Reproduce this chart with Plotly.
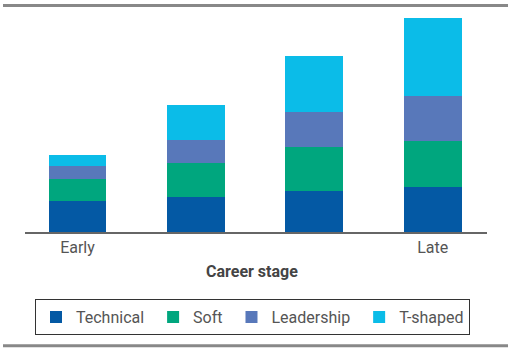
import plotly.graph_objects as go

categories = ["Early", "Stage 2", "Stage 3", "Late"]
tick_labels = ["Early", "", "", "Late"]
technical = [31, 35, 41.3, 45.3]
soft = [22, 34.3, 43.4, 45.4]
leadership = [13, 23, 35.6, 45.3]
t_shaped = [11, 34.7, 55.4, 78.3]

series = [
    ("Technical", technical, "#0459A4"),
    ("Soft", soft, "#00A67E"),
    ("Leadership", leadership, "#5878BA"),
    ("T-shaped", t_shaped, "#0BBCE8"),
]

fig = go.Figure()
for i, (name, vals, col) in enumerate(series):
    label = name + ("\u00a0" if i < len(series) - 1 else "")
    fig.add_trace(go.Bar(x=categories, y=vals, name=label,
                         marker=dict(color=col, line=dict(width=0))))

fig.update_layout(
    width=512, height=353,
    margin=dict(l=25, r=25, t=12, b=121),
    barmode="stack", bargap=0.513,
    paper_bgcolor="white", plot_bgcolor="white",
    font=dict(family="Roboto", color="#555555"),
    showlegend=True,
    legend=dict(orientation="h", x=0.4924, xanchor="center", y=-0.305, yanchor="top",
                bordercolor="#333333", borderwidth=1, traceorder="normal",
                font=dict(size=16, color="#555555")),
    xaxis=dict(range=[-0.443, 3.458], tickmode="array", tickvals=categories, ticktext=tick_labels,
               showline=True, linecolor="#666666", linewidth=1.5, ticks="",
               tickfont=dict(size=16, color="#555555"), showgrid=False, zeroline=False),
    yaxis=dict(range=[0, 220], visible=False),
    annotations=[dict(text="<b>Career stage</b>", xref="paper", yref="paper", x=0.4924, y=-0.1818,
                      xanchor="center", yanchor="middle", showarrow=False,
                      font=dict(size=16, color="#444444"))],
    shapes=[
        dict(type="line", xref="paper", yref="paper", x0=-0.0476, x1=1.0455, y0=1.0295, y1=1.0295,
             line=dict(color="#888888", width=3)),
        dict(type="line", xref="paper", yref="paper", x0=-0.0476, x1=1.0455, y0=-0.5168, y1=-0.5168,
             line=dict(color="#888888", width=3)),
    ],
)

fig.write_html("out.html")
